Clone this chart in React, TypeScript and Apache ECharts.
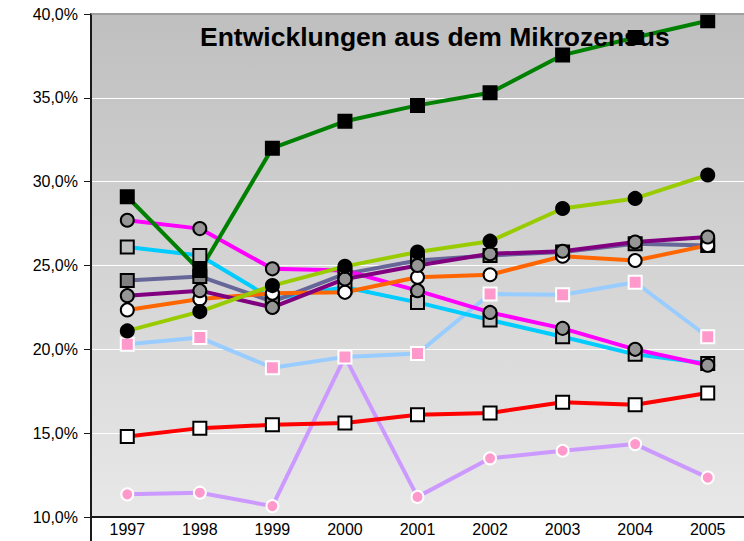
import React, { useEffect, useRef } from "react";
import * as echarts from "echarts";

const years = ["1997", "1998", "1999", "2000", "2001", "2002", "2003", "2004", "2005"];
const yTicks = [10, 15, 20, 25, 30, 35, 40];
const titleText = "Entwicklungen aus dem Mikrozensus";

const greenVals = [29.1, 24.7, 32.0, 33.6, 34.55, 35.3, 37.55, 38.6, 39.6];
const magentaVals = [27.7, 27.2, 24.8, 24.7, 23.5, 22.2, 21.25, 20.0, 19.05];
const cyanVals = [26.1, 25.6, 23.0, 23.7, 22.8, 21.75, 20.75, 19.7, 19.15];
const slateVals = [24.1, 24.35, 22.85, 24.5, 25.3, 25.6, 25.8, 26.3, 26.2];
const purpleVals = [23.2, 23.5, 22.5, 24.2, 25.0, 25.7, 25.85, 26.4, 26.7];
const orangeVals = [22.35, 23.0, 23.35, 23.4, 24.3, 24.45, 25.55, 25.3, 26.2];
const ygVals = [21.1, 22.25, 23.8, 24.95, 25.8, 26.45, 28.4, 29.0, 30.4];
const lightBlueVals = [20.3, 20.7, 18.9, 19.55, 19.75, 23.3, 23.25, 24.0, 20.75];
const redVals = [14.8, 15.3, 15.5, 15.6, 16.1, 16.2, 16.85, 16.7, 17.4];
const lavenderVals = [11.35, 11.45, 10.65, 19.55, 11.2, 13.5, 13.95, 14.35, 12.35];

type S = { name: string; data: number[]; line: string; symbol: string; fill: string; border: string; size: number };

const seriesDefs: S[] = [
  { name: "J", data: lavenderVals, line: "#cc99ff", symbol: "circle", fill: "#ff99cc", border: "#ffffff", size: 12 },
  { name: "H", data: lightBlueVals, line: "#99ccff", symbol: "rect", fill: "#ff99cc", border: "#ffffff", size: 13 },
  { name: "I", data: redVals, line: "#ff0000", symbol: "rect", fill: "#ffffff", border: "#000000", size: 13 },
  { name: "C", data: cyanVals, line: "#00ccff", symbol: "rect", fill: "#c0c0c0", border: "#000000", size: 13 },
  { name: "D", data: slateVals, line: "#666699", symbol: "rect", fill: "#808080", border: "#000000", size: 13 },
  { name: "B", data: magentaVals, line: "#ff00ff", symbol: "circle", fill: "#969696", border: "#000000", size: 13 },
  { name: "F", data: orangeVals, line: "#ff6600", symbol: "circle", fill: "#ffffff", border: "#000000", size: 13 },
  { name: "E", data: purpleVals, line: "#800080", symbol: "circle", fill: "#969696", border: "#000000", size: 13 },
  { name: "G", data: ygVals, line: "#99cc00", symbol: "circle", fill: "#000000", border: "#000000", size: 13 },
  { name: "A", data: greenVals, line: "#008000", symbol: "rect", fill: "#000000", border: "#000000", size: 13 },
];

const GL = 91, GT = 14, GW = 655, GH = 503;

export default function App() {
  const ref = useRef<HTMLDivElement>(null);
  useEffect(() => {
    if (!ref.current) return;
    const chart = echarts.init(ref.current, undefined, { renderer: "svg" });
    chart.setOption({
      animation: false,
      backgroundColor: "#ffffff",
      textStyle: { fontFamily: "Liberation Sans, Arial, sans-serif" },
      grid: {
        left: GL, top: GT, width: GW, height: GH,
        show: true, borderWidth: 0,
        backgroundColor: new echarts.graphic.LinearGradient(0, 0, 0, 1, [
          { offset: 0, color: "#bfbfbf" },
          { offset: 1, color: "#e8e8e8" },
        ]),
      },
      xAxis: {
        type: "category",
        data: years,
        boundaryGap: true,
        axisLine: { lineStyle: { color: "#1a1a1a", width: 2 } },
        axisTick: { show: false },
        axisLabel: { color: "#000", fontSize: 16, margin: 4, fontFamily: "Liberation Sans, Arial" },
        splitLine: { show: false },
      },
      yAxis: {
        type: "value",
        min: yTicks[0],
        max: yTicks[yTicks.length - 1],
        interval: 5,
        axisLine: { show: true, lineStyle: { color: "#1a1a1a", width: 2 } },
        axisTick: { show: true, length: 7, lineStyle: { color: "#1a1a1a", width: 1 } },
        axisLabel: {
          color: "#000", fontSize: 16, margin: 13, fontFamily: "Liberation Sans, Arial",
          formatter: (v: number) => v.toFixed(1).replace(".", ",") + "%",
        },
        splitLine: { show: true, lineStyle: { color: "#ffffff", width: 1 } },
      },
      graphic: [
        { type: "line", shape: { x1: GL, y1: GT, x2: GL + GW, y2: GT }, style: { stroke: "#808080", lineWidth: 1.5 }, z: 10 },
        { type: "line", shape: { x1: GL, y1: GT + GH, x2: GL, y2: 541 }, style: { stroke: "#1a1a1a", lineWidth: 2 }, z: 10 },
        {
          type: "text", left: 200, top: 23, z: 20,
          style: { text: titleText, font: "bold 26.5px 'Liberation Sans', Arial", fill: "#000" },
        },
      ],
      series: seriesDefs.map((s) => ({
        name: s.name,
        type: "line",
        data: s.data,
        symbol: s.symbol,
        symbolSize: s.size,
        showAllSymbol: true,
        lineStyle: { color: s.line, width: 4 },
        itemStyle: { color: s.fill, borderColor: s.border, borderWidth: 2 },
        emphasis: { disabled: true },
      })),
    });
    return () => chart.dispose();
  }, []);
  return <div ref={ref} style={{ width: 744, height: 541, position: "absolute", left: 0, top: 0 }} />;
}
